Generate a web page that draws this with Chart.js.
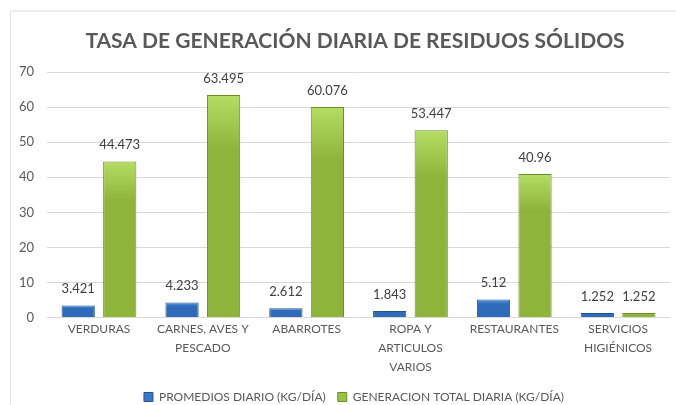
<!DOCTYPE html>
<html>
<head>
<meta charset="utf-8">
<script src="https://cdn.jsdelivr.net/npm/chart.js@4"></script>
<style>
  html, body { margin: 0; padding: 0; background: #fff; }
  #wrap { position: relative; width: 676px; height: 405px; }
  #frame { position: absolute; left: 10px; top: 10px; right: 0; bottom: 0;
           border-top: 2px solid #eeeeee; border-left: 1px solid #e4e4e4; }
  canvas { position: absolute; left: 0; top: 0; }
</style>
</head>
<body>
<div id="wrap">
  <div id="frame"></div>
  <canvas id="canvas" width="676" height="405"></canvas>
</div>
<script>
const canvas = document.getElementById("canvas");
const ctx = canvas.getContext("2d");

// Data
const categories = [
    "VERDURAS",
    ["CARNES, AVES Y", "PESCADO"],
    "ABARROTES",
    ["ROPA Y", "ARTICULOS", "VARIOS"],
    "RESTAURANTES",
    ["SERVICIOS", "HIGIÉNICOS"]
];
const promedioDiario = [3.421, 4.233, 2.612, 1.843, 5.12, 1.252];
const generacionTotal = [44.473, 63.495, 60.076, 53.447, 40.96, 1.252];
const seriesNames = ["PROMEDIOS DIARIO (KG/DÍA)", "GENERACION TOTAL DIARIA (KG/DÍA)"];
const yTicks = [0, 10, 20, 30, 40, 50, 60, 70];

const FONT = "Lato, 'Open Sans', sans-serif";
const TEXT = "#595959";

// per-bar vertical gradient, light on top, darker lower down
function barGradient(top, bottom) {
    return (c) => {
        const chart = c.chart;
        const y = chart.scales.y;
        if (!y || c.raw === undefined) return top;
        const y0 = y.getPixelForValue(c.raw);
        const y1 = y.getPixelForValue(0);
        if (!isFinite(y0) || !isFinite(y1) || y1 - y0 < 1) return top;
        const g = chart.ctx.createLinearGradient(0, y0, 0, y1);
        g.addColorStop(0, top);
        g.addColorStop(0.25, bottom);
        g.addColorStop(1, bottom);
        return g;
    };
}

// value labels above bars
const valueLabels = {
    id: "valueLabels",
    afterDatasetsDraw(chart) {
        const c = chart.ctx;
        c.save();
        c.font = "13px " + FONT;
        c.fillStyle = "#404040";
        c.textAlign = "center";
        c.textBaseline = "bottom";
        chart.data.datasets.forEach((ds, i) => {
            chart.getDatasetMeta(i).data.forEach((el, j) => {
                c.fillText(String(ds.data[j]), el.x, el.y - 10);
            });
        });
        c.restore();
    }
};

// title and legend sit a bit right of the canvas centre in the original
const shiftBlocks = {
    id: "shiftBlocks",
    afterLayout(chart) {
        chart.titleBlock.left += 17;
        chart.titleBlock.right += 17;
        chart.legend.left += 16;
        chart.legend.right += 16;
    }
};

const legendColors = ["#3a78c8", "#96c442"];

new Chart(ctx, {
    type: "bar",
    data: {
        labels: categories,
        datasets: [{
            label: seriesNames[0],
            data: promedioDiario,
            backgroundColor: barGradient("#5d9be0", "#2f6bb8"),
            borderColor: "#25558f",
            borderWidth: 1,
            borderSkipped: "bottom"
        }, {
            label: seriesNames[1],
            data: generacionTotal,
            backgroundColor: barGradient("#b4dd63", "#8fb43c"),
            borderColor: "#6f8c2c",
            borderWidth: 1,
            borderSkipped: "bottom"
        }]
    },
    options: {
        responsive: false,
        animation: false,
        layout: { padding: { left: 6, right: 6, top: 14, bottom: -8 } },
        datasets: { bar: { categoryPercentage: 0.8, barPercentage: 0.8 } },
        scales: {
            x: {
                grid: { display: false, drawTicks: false },
                border: { display: false },
                ticks: { color: TEXT, font: { family: FONT, size: 12, lineHeight: 1.6 }, maxRotation: 0, autoSkip: false, padding: 2 }
            },
            y: {
                min: 0, max: 70,
                afterBuildTicks: (s) => { s.ticks = yTicks.map(v => ({ value: v })); },
                grid: { color: "#d9d9d9", drawTicks: false },
                border: { display: false },
                ticks: { color: TEXT, font: { family: FONT, size: 13 }, padding: 13 }
            }
        },
        plugins: {
            title: {
                display: true,
                text: "TASA DE GENERACIÓN DIARIA DE RESIDUOS SÓLIDOS",
                color: TEXT,
                font: { family: FONT, size: 21, weight: "bold" },
                padding: { top: 15, bottom: 18 }
            },
            legend: {
                position: "bottom",
                labels: {
                    color: TEXT,
                    font: { family: FONT, size: 12 },
                    boxWidth: 9, boxHeight: 9, padding: 12,
                    generateLabels: (chart) => chart.data.datasets.map((ds, i) => ({
                        text: ds.label,
                        fillStyle: legendColors[i],
                        strokeStyle: ds.borderColor,
                        lineWidth: 1,
                        fontColor: TEXT,
                        datasetIndex: i
                    }))
                }
            },
            tooltip: { enabled: false }
        }
    },
    plugins: [valueLabels, shiftBlocks]
});
</script>
</body>
</html>
